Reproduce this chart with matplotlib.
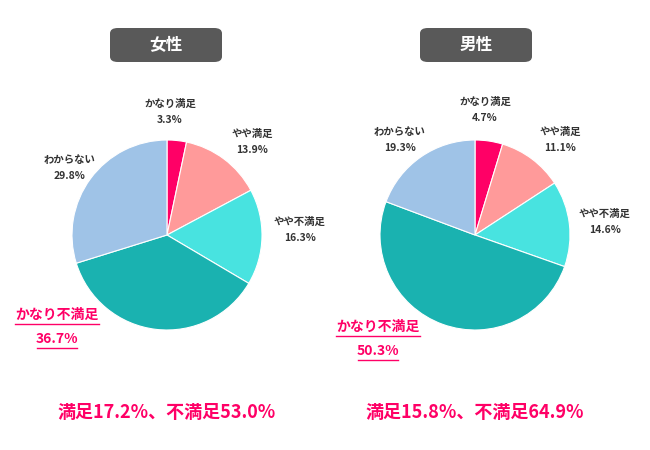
import matplotlib
matplotlib.use("Agg")
import matplotlib.pyplot as plt
from matplotlib.patches import FancyBboxPatch
from matplotlib.lines import Line2D

plt.rcParams['font.family'] = ['Noto Sans CJK JP', 'DejaVu Sans']

categories = ["かなり満足", "やや満足", "やや不満足", "かなり不満足", "わからない"]
female = [3.3, 13.9, 16.3, 36.7, 29.8]
male = [4.7, 11.1, 14.6, 50.3, 19.3]
titles = ["女性", "男性"]
summaries = ["満足17.2%、不満足53.0%", "満足15.8%、不満足64.9%"]
colors = ["#ff0066", "#ff9a9a", "#48e3e0", "#1ab2b0", "#9fc3e7"]

W, H = 650, 450
fig = plt.figure(figsize=(6.5, 4.5), dpi=100)

def fx(x): return x / W
def fy(y): return 1 - y / H

centers = [(167, 235), (475, 235)]
R = 95
label_pos = [
    {0: (170, 112), 1: (252, 142), 2: (300, 230), 4: (70, 168)},
    {0: (485, 110), 1: (560, 140), 2: (605, 222), 4: (400, 140)},
]
big_pos = [(57, 325), (378, 337)]

for i, (data, title, summ) in enumerate(zip([female, male], titles, summaries)):
    cx, cy = centers[i]
    ax = fig.add_axes([fx(cx - R), fy(cy + R), 2 * R / W, 2 * R / H])
    ax.pie(data, colors=colors, startangle=90, counterclock=False,
           wedgeprops=dict(linewidth=0.8, edgecolor="white"))
    ax.set_xlim(-1, 1)
    ax.set_ylim(-1, 1)
    ax.set_aspect("equal")
    bx = 110 + i * 310
    box = FancyBboxPatch((fx(bx), fy(62)), 112 / W, 34 / H,
                         boxstyle="round,pad=0,rounding_size=0.012",
                         transform=fig.transFigure, facecolor="#595959",
                         edgecolor="none")
    fig.patches.append(box)
    fig.text(fx(bx + 56), fy(45), title, ha="center", va="center",
             color="white", fontsize=12, fontweight="bold")
    for k, (px, py) in label_pos[i].items():
        fig.text(fx(px), fy(py), f"{categories[k]}\n{data[k]}%", ha="center",
                 va="center", fontsize=7.5, color="#333333", fontweight="bold",
                 linespacing=1.8)
    px, py = big_pos[i]
    fig.text(fx(px), fy(py - 10), categories[3], ha="center", va="center",
             fontsize=10, color="#ff0066", fontweight="bold")
    fig.text(fx(px), fy(py + 14), f"{data[3]}%", ha="center", va="center",
             fontsize=10, color="#ff0066", fontweight="bold")
    for yy, half in [(py - 1, 42), (py + 23, 20)]:
        fig.add_artist(Line2D([fx(px - half), fx(px + half)], [fy(yy), fy(yy)],
                              transform=fig.transFigure, color="#ff0066", lw=1))
    fig.text(fx(cx), fy(412), summ, ha="center", va="center",
             fontsize=13, color="#ff0066", fontweight="bold")

fig.savefig("out.png", dpi=100, facecolor="white")
